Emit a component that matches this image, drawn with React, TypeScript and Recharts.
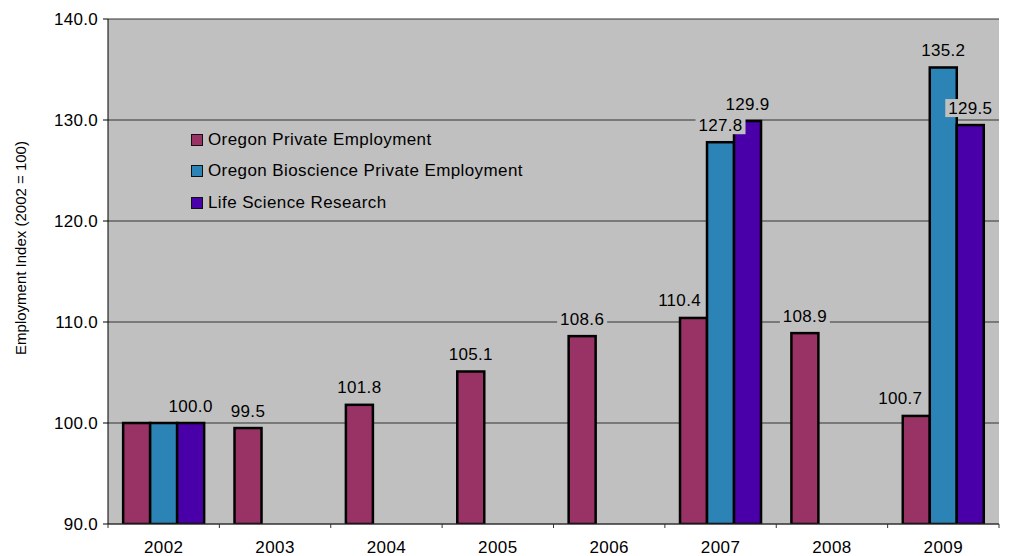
import { BarChart, Bar, XAxis, YAxis, CartesianGrid, Legend, LabelList, Label } from 'recharts';

const years = ['2002', '2003', '2004', '2005', '2006', '2007', '2008', '2009'];
const oregonPrivate = [100.0, 99.5, 101.8, 105.1, 108.6, 110.4, 108.9, 100.7];
const bioscience = [100.0, null, null, null, null, 127.8, null, 135.2];
const lifeScience = [100.0, null, null, null, null, 129.9, null, 129.5];
const yTicks = [90, 100, 110, 120, 130, 140];

const seriesMeta = [
  { key: 'oregon', name: 'Oregon Private Employment', color: '#993366' },
  { key: 'bio', name: 'Oregon Bioscience Private Employment', color: '#2C84B6' },
  { key: 'life', name: 'Life Science Research', color: '#4900A8' },
];

// hand-placed labels in the original (overlaps hidden, some nudged sideways)
const labelShift: Record<string, { dx?: number; dy?: number; hide?: boolean }> = {
  'oregon-2002': { hide: true },
  'bio-2002': { hide: true },
  'oregon-2007': { dx: -14 },
  'bio-2007': { dx: -14 },
  'oregon-2009': { dx: -16 },
  'life-2009': { dx: 18, dy: -6 },
};

const W = 1011;
const H = 556;
const margin = { top: 19, right: 12, left: 48, bottom: 0 };
const Y_AXIS_W = 60;
const BAND = (W - margin.left - margin.right - Y_AXIS_W) / years.length;
const FONT = '"Liberation Sans", Arial, sans-serif';
const PLOT_BG = '#C0C0C0';

const data = years.map((year, i) => ({
  year,
  oregon: oregonPrivate[i],
  bio: bioscience[i],
  life: lifeScience[i],
}));

const BarShape = (p: any) => {
  if (!p.height || p.height <= 0) return null;
  return (
    <rect x={p.x} y={p.y} width={p.width} height={p.height} fill={p.fill} stroke="#000" strokeWidth={2.5} />
  );
};

const makeLabel = (key: string) => (props: any) => {
  const { x, y, width, value, index } = props;
  if (value == null) return null;
  const shift = labelShift[`${key}-${years[index]}`] || {};
  if (shift.hide) return null;
  const cx = Number(x) + Number(width) / 2 + (shift.dx ?? 0);
  const cy = Number(y) - 17 + (shift.dy ?? 0);
  return (
    <g>
      <rect x={cx - 25} y={cy - 9} width={50} height={18} fill={PLOT_BG} />
      <text
        x={cx}
        y={cy}
        textAnchor="middle"
        dominantBaseline="central"
        fontSize={17}
        letterSpacing={0.3}
        fontFamily={FONT}
        fill="#000"
      >
        {Number(value).toFixed(1)}
      </text>
    </g>
  );
};

const XTick = (props: any) => {
  const { x, y, index } = props;
  const left = x - BAND / 2;
  return (
    <g>
      <line x1={left} y1={y - 4} x2={left} y2={y} stroke="#333" />
      {index === years.length - 1 && (
        <line x1={x + BAND / 2} y1={y - 4} x2={x + BAND / 2} y2={y} stroke="#333" />
      )}
      <text
        x={x}
        y={y + 19}
        textAnchor="middle"
        dominantBaseline="central"
        fontSize={17}
        letterSpacing={0.4}
        fontFamily={FONT}
        fill="#000"
      >
        {props.payload.value}
      </text>
    </g>
  );
};

const LegendBox = () => (
  <div style={{ fontFamily: FONT, fontSize: 17, letterSpacing: 0.4, color: '#000' }}>
    {seriesMeta.map(s => (
      <div key={s.key} style={{ display: 'flex', alignItems: 'center', height: 31.5 }}>
        <span
          style={{
            display: 'inline-block',
            width: 10,
            height: 10,
            background: s.color,
            border: '1px solid #111',
            marginRight: 5,
          }}
        />
        <span>{s.name}</span>
      </div>
    ))}
  </div>
);

export default function App() {
  return (
    <div style={{ position: 'absolute', left: 0, top: 0, width: W, height: H, background: '#fff' }}>
      <BarChart width={W} height={H} data={data} margin={margin} barCategoryGap="13.6%" barGap={0}>
        <CartesianGrid vertical={false} fill={PLOT_BG} fillOpacity={1} stroke="#333" />
        <XAxis
          dataKey="year"
          height={32}
          tickSize={4}
          tickMargin={0}
          tickLine={false}
          axisLine={{ stroke: '#333' }}
          tick={<XTick />}
          interval={0}
        />
        <YAxis
          width={Y_AXIS_W}
          domain={[90, 140]}
          ticks={yTicks}
          allowDataOverflow
          tickFormatter={(v: number) => v.toFixed(1)}
          tickSize={5}
          tickMargin={5}
          tickLine={{ stroke: '#000' }}
          axisLine={{ stroke: '#000' }}
          tick={{ fontSize: 17, fontFamily: FONT, fill: '#000', letterSpacing: 0.3 }}
        >
          <Label
            content={() => (
              <text
                x={20}
                y={248}
                transform="rotate(-90 20 248)"
                textAnchor="middle"
                dominantBaseline="central"
                fontSize={15}
                fontFamily={FONT}
                fill="#000"
              >
                Employment Index (2002 = 100)
              </text>
            )}
          />
        </YAxis>
        <Legend
          layout="vertical"
          align="center"
          verticalAlign="middle"
          content={<LegendBox />}
          wrapperStyle={{ position: 'absolute', left: 191, top: 124, width: 'auto' }}
        />
        {seriesMeta.map(s => (
          <Bar
            key={s.key}
            dataKey={s.key}
            name={s.name}
            fill={s.color}
            shape={<BarShape />}
            isAnimationActive={false}
          >
            <LabelList dataKey={s.key} content={makeLabel(s.key)} />
          </Bar>
        ))}
      </BarChart>
    </div>
  );
}
